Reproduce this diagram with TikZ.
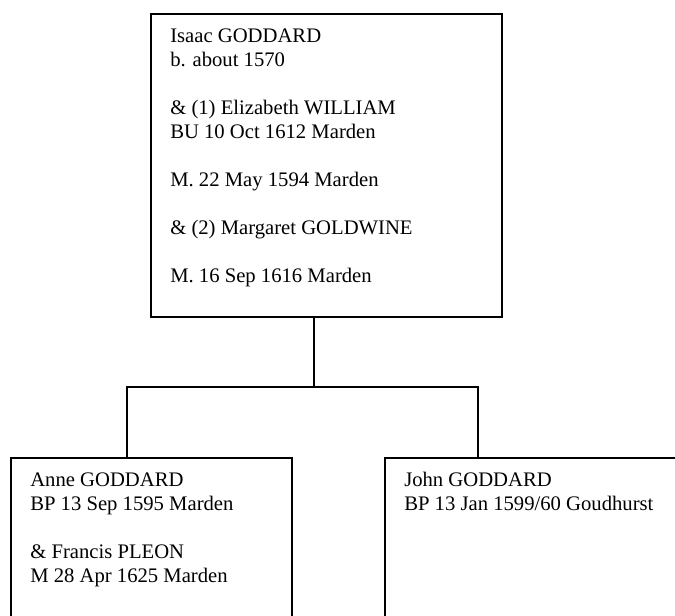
\documentclass[tikz,border=0pt]{standalone}
\usepackage{fontspec}
\setmainfont{Liberation Serif}
\usepackage{tikz}
\newcommand{\treefont}{\fontsize{15.5}{18}\selectfont}
\newcommand{\gap}{\\[18pt]}
\tikzset{
    person/.style={draw, line width=1.4pt, inner sep=0pt, anchor=north west},
    entry/.style={inner sep=0pt, anchor=north west, align=left, font=\treefont},
}

\begin{document}
\begin{tikzpicture}[x=0.75pt, y=-0.75pt]
    \useasboundingbox (0,0) rectangle (675,615);
    \clip (0,0) rectangle (675,615);
    % boxes
    \node[person, minimum width=263.25pt, minimum height=227.25pt] (isaac) at (150,13) {};
    \node[person, minimum width=210.75pt, minimum height=135pt] (anne) at (10,457) {};
    \node[person, minimum width=233.25pt, minimum height=135pt] (john) at (384,457) {};
    % texts
    \node[entry] (isaac text) at ([xshift=15pt, yshift=-11.4pt]isaac.north west)
        {Isaac GODDARD\\ b. about 1570\gap
         \& (1) Elizabeth WILLIAM\\ BU 10 Oct 1612 Marden\gap
         M. 22 May 1594 Marden\gap
         \& (2) Margaret GOLDWINE\gap
         M. 16 Sep 1616 Marden};
    \node[entry] (anne text) at ([xshift=15pt, yshift=-11.4pt]anne.north west)
        {Anne GODDARD\\ BP 13 Sep 1595 Marden\gap
         \& Francis PLEON\\ M 28 Apr 1625 Marden};
    \node[entry] (john text) at ([xshift=15pt, yshift=-11.4pt]john.north west)
        {John GODDARD\\ BP 13 Jan 1599/60 Goudhurst};
    % connectors
    \coordinate (fork) at (314,387);
    \coordinate (fork left) at (127,387);
    \coordinate (fork right) at (478,387);
    \draw[line width=1.4pt] (isaac.south -| fork) -- (fork);
    \draw[line width=1.4pt] (anne.north -| fork left) -- (fork left) -- (fork right) -- (john.north -| fork right);
\end{tikzpicture}
\end{document}
